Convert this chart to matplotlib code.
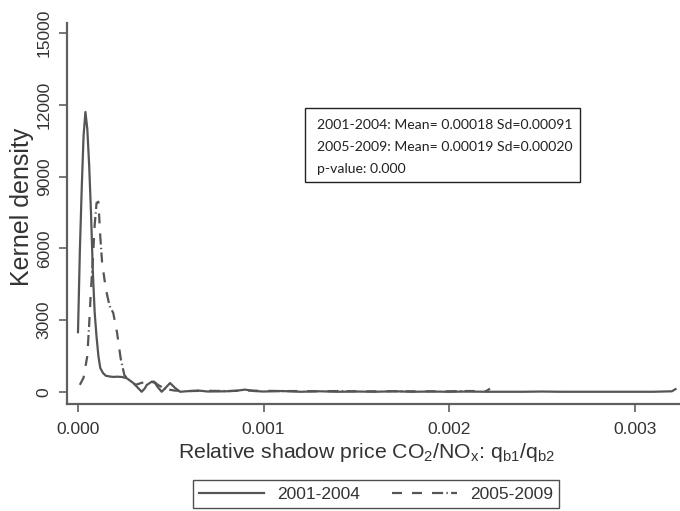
import matplotlib
matplotlib.use("Agg")
import matplotlib.pyplot as plt
from matplotlib.patches import Rectangle

plt.rcParams['font.family'] = ['Liberation Sans', 'DejaVu Sans']
plt.rcParams['mathtext.fontset'] = 'custom'
plt.rcParams['mathtext.rm'] = 'Liberation Sans'
plt.rcParams['mathtext.it'] = 'Liberation Sans'

# kernel density, 2001-2004 (solid)
x_0104 = [0.0, 0.00001, 0.00002, 0.00003, 0.00004, 0.00005, 0.00006, 0.00007,
          0.00008, 0.00009, 0.0001, 0.00011, 0.00012, 0.000135, 0.00015, 0.00017,
          0.00019, 0.00021, 0.000235, 0.000262, 0.000285, 0.000298, 0.00032,
          0.000343, 0.00036, 0.00037, 0.000397, 0.000415, 0.00043, 0.000451,
          0.000475, 0.000496, 0.000523, 0.00055, 0.0006, 0.00065, 0.0007,
          0.0008, 0.00085, 0.0009, 0.00095, 0.001, 0.0011, 0.0012, 0.0013,
          0.0014, 0.0015, 0.0016, 0.0017, 0.0018, 0.0019, 0.002, 0.0021,
          0.0022, 0.0023, 0.0024, 0.0025, 0.0026, 0.0027, 0.0028, 0.0029,
          0.003, 0.0031, 0.0032, 0.00322]
y_0104 = [2500, 5900, 8500, 10700, 11700, 11000, 9500, 7500,
          5000, 3300, 2300, 1500, 1000, 790, 680, 650,
          630, 640, 630, 580, 450, 375, 200,
          10, 150, 290, 430, 375, 200, 10,
          200, 375, 170, 10, 40, 60, 20,
          30, 50, 100, 40, 20, 40, 10, 30,
          10, 20, 10, 30, 10, 20, 10, 20,
          10, 10, 10, 20, 10, 10, 10, 10,
          10, 10, 30, 120]

# kernel density, 2005-2009 (dashed)
x_0509 = [0.00001, 0.00003, 0.00005, 0.00006, 0.00007, 0.00008, 0.00009,
          0.0001, 0.00011, 0.00012, 0.00013, 0.00015, 0.00017, 0.00019,
          0.00021, 0.00023, 0.00025, 0.00027, 0.00029, 0.00031, 0.00033,
          0.00035, 0.00037, 0.00039, 0.00041, 0.00043, 0.00046, 0.00049,
          0.00052, 0.0006, 0.0007, 0.0008, 0.0009, 0.001, 0.0011, 0.0012,
          0.0013, 0.0014, 0.0015, 0.0016, 0.0017, 0.0018, 0.0019, 0.002,
          0.0021, 0.0022, 0.00222]
y_0509 = [300, 600, 1500, 2800, 4300, 5500, 7000,
          7900, 7950, 6500, 5400, 4300, 3600, 3300,
          2500, 1400, 700, 550, 450, 300, 350,
          400, 500, 450, 430, 300, 170, 100,
          60, 40, 50, 40, 60, 50, 40, 40,
          30, 40, 30, 30, 30, 30, 30, 30,
          40, 40, 140]

labels = ['2001-2004', '2005-2009']
stats_text = ['2001-2004: Mean= 0.00018 Sd=0.00091',
              '2005-2009: Mean= 0.00019 Sd=0.00020',
              'p-value: 0.000']

line_col = '#555555'
axis_col = '#5f5f5f'
text_col = '#333333'

fig = plt.figure(figsize=(6.8, 5.11), dpi=100)
ax = fig.add_axes([67 / 680, 107 / 511, 613 / 680, 381 / 511])

ax.plot(x_0104, y_0104, color=line_col, lw=1.6, label=labels[0])
ax.plot(x_0509, y_0509, color=line_col, lw=1.6, label=labels[1],
        dashes=(4.5, 4.5, 4.5, 4.5, 5, 1.5, 0.6, 1.5))

ax.set_xlim(-0.0000593, 0.003244)
ax.set_ylim(-501, 15418)
ax.set_xticks([0, 0.001, 0.002, 0.003])
ax.set_xticklabels(['0.000', '0.001', '0.002', '0.003'])
ax.set_yticks([0, 3000, 6000, 9000, 12000, 15000])
ax.tick_params(axis='y', labelrotation=90, pad=5)
for lab in ax.get_yticklabels():
    lab.set_va('center')
ax.tick_params(axis='x', pad=7)
ax.tick_params(colors=axis_col, labelcolor=text_col, labelsize=12.5,
               length=6, width=1.2)

for s in ['top', 'right']:
    ax.spines[s].set_visible(False)
for s in ['left', 'bottom']:
    ax.spines[s].set_color(axis_col)
    ax.spines[s].set_linewidth(1.6)

ax.set_ylabel('Kernel density', fontsize=18, color=text_col, va='center')
ax.yaxis.set_label_coords(-(67 - 22) / 613, (511 - 207 - 107) / 381)
ax.set_xlabel(r'Relative shadow price CO$_{2}$/NO$_{x}$: q$_{b1}$/q$_{b2}$',
              fontsize=15.3, color=text_col)
ax.xaxis.set_label_coords((367 - 67) / 613, -(452 - 404) / 381)
ax.xaxis.label.set_va('center')

# stats box
fig.patches.append(Rectangle((305 / 680, (511 - 182) / 511), 275 / 680, 74 / 511,
                             transform=fig.transFigure, fill=False,
                             edgecolor='#222222', lw=1.0))
for i, t in enumerate(stats_text):
    fig.text(317 / 680, (511 - 125 - i * 22) / 511, t, fontsize=10.1,
             family=['Lato', 'DejaVu Sans'], color='#222222', va='center')

fig.legend(loc='center', bbox_to_anchor=(376 / 680, 17 / 511), ncol=2,
           frameon=True, fancybox=False, edgecolor='#222222', fontsize=12.5,
           handlelength=3.75, handletextpad=0.75, columnspacing=1.85,
           borderpad=0.35, labelcolor=text_col)

fig.savefig('out.png', dpi=100)
